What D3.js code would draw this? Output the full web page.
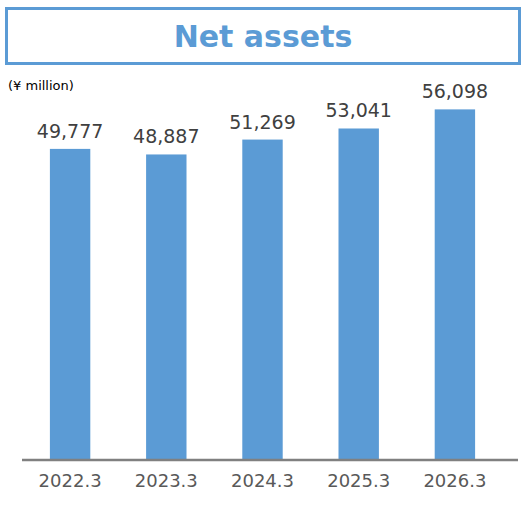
<!DOCTYPE html>
<html><head><meta charset="utf-8">
<script src="https://cdn.jsdelivr.net/npm/d3@7"></script>
<style>body{margin:0;background:#fff}</style></head>
<body><svg id="c" width="527" height="513"></svg>
<script>
const categories=["2022.3","2023.3","2024.3","2025.3","2026.3"];
const values=[49777,48887,51269,53041,56098];
const svg=d3.select("#c");
const font="Verdana, 'DejaVu Sans', sans-serif";
svg.append("rect").attr("x",6.5).attr("y",8.5).attr("width",513).attr("height",55)
  .attr("fill","#fff").attr("stroke","#5B9BD5").attr("stroke-width",3);
svg.append("text").attr("x",263).attr("y",47).attr("text-anchor","middle")
  .attr("font-family",font).attr("font-weight","bold").attr("font-size",30)
  .attr("fill","#5B9BD5").text("Net assets");
svg.append("text").attr("x",8).attr("y",90).attr("font-family",font).attr("font-size",13)
  .attr("fill","#000").text("(¥ million)");
const x=d3.scaleBand().domain(categories).range([22,503]).paddingInner(0.58).paddingOuter(0.29);
const y=d3.scaleLinear().domain([0,60000]).range([460,85]);
svg.selectAll(".bar").data(values).join("rect")
  .attr("x",(d,i)=>x(categories[i])).attr("y",d=>y(d))
  .attr("width",x.bandwidth()).attr("height",d=>y(0)-y(d)).attr("fill","#5B9BD5");
svg.selectAll(".lbl").data(values).join("text")
  .attr("x",(d,i)=>x(categories[i])+x.bandwidth()/2).attr("y",d=>y(d)-11)
  .attr("text-anchor","middle").attr("font-family",font).attr("font-size",19)
  .attr("fill","#404040").text(d=>d3.format(",")(d));
const ax=svg.append("g").attr("transform","translate(0,460)").call(d3.axisBottom(x).tickSize(0).tickPadding(14));
ax.select(".domain").attr("stroke","#808080").attr("stroke-width",2.5).attr("d","M22,0H518");
ax.selectAll("text").attr("font-family",font).attr("font-size",18).attr("fill","#595959");
</script></body></html>
